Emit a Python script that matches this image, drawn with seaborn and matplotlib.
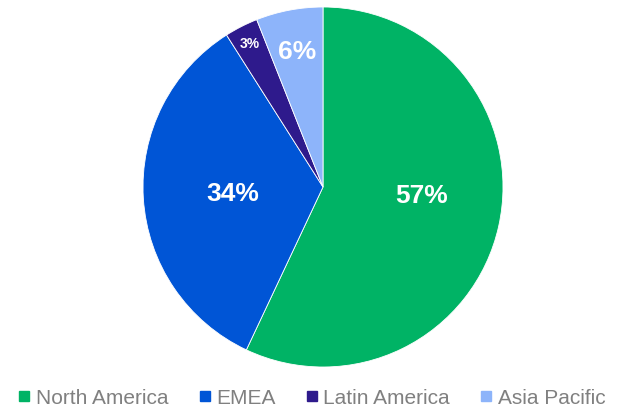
import matplotlib
matplotlib.use("Agg")
import matplotlib.pyplot as plt
import seaborn as sns
import numpy as np
from matplotlib.lines import Line2D

sns.set_theme(style="white")
plt.rcParams['font.family'] = ['Liberation Sans', 'DejaVu Sans']

# data
regions = ["North America", "EMEA", "Latin America", "Asia Pacific"]
shares = [57, 34, 3, 6]
colors = ["#00B365", "#0055D6", "#2E1A8C", "#8DB4FA"]

# label placement per wedge: fraction of radius, angle nudge (deg), font size
label_dist = [0.55, 0.5, 0.9, 0.77]
label_turn = [8, 0, 0, 0]
label_size = [19, 19, 10, 19]

fig = plt.figure(figsize=(6.21, 4.10), dpi=100)
W, H = 621, 410
cx, cy, r = 323, 188, 180
ax = fig.add_axes([(cx - r) / W, (H - cy - r) / H, 2 * r / W, 2 * r / H])

wedges, _ = ax.pie(shares, colors=colors, startangle=90, counterclock=False,
                   radius=1.0, wedgeprops=dict(linewidth=0.6, edgecolor="white"))
ax.set_xlim(-1, 1)
ax.set_ylim(-1, 1)
ax.set_aspect("auto")
ax.axis("off")

for w, val, d, t, fs in zip(wedges, shares, label_dist, label_turn, label_size):
    mid = np.deg2rad((w.theta1 + w.theta2) / 2 + t)
    ax.text(d * np.cos(mid), d * np.sin(mid), f"{val}%", ha="center", va="center",
            color="white", fontsize=fs, fontweight="bold")

handles = [Line2D([0], [0], marker="s", linestyle="", markersize=7,
                  markerfacecolor=c, markeredgecolor=c) for c in colors]
fig.legend(handles, regions, loc="center", bbox_to_anchor=(0.502, 0.027),
           ncol=4, frameon=False, fontsize=15, labelcolor="#808080",
           handlelength=0.6, handletextpad=0.25, columnspacing=1.45)

fig.savefig("out.png", dpi=100)
